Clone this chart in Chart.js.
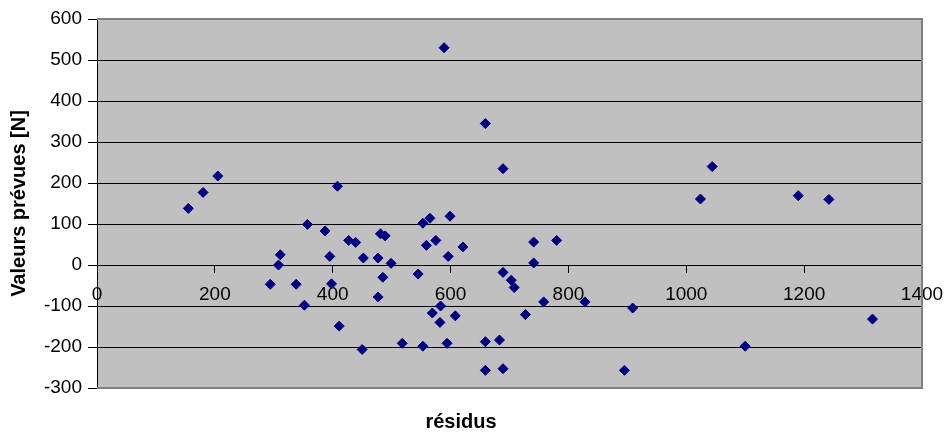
<!DOCTYPE html>
<html>
<head>
<meta charset="utf-8">
<script src="https://cdn.jsdelivr.net/npm/chart.js@4"></script>
<style>
  html, body { margin: 0; padding: 0; background: #fff; }
</style>
</head>
<body>
<canvas id="chart" width="948" height="434"></canvas>
<script>
// residus (x) / valeurs prevues (y)
const residus = [155, 180, 205, 294, 308, 311, 338, 352, 357, 387, 395, 398, 408, 411, 427, 439,
  452, 450, 477, 477, 481, 489, 485, 499, 518, 545, 553, 553, 565, 559, 569, 575, 583, 582, 594,
  599, 596, 608, 621, 589, 659, 689, 659, 683, 659, 689, 689, 703, 708, 727, 741, 741, 758, 780,
  828, 909, 895, 1024, 1044, 1100, 1190, 1242, 1316];
const valeursPrevues = [138, 177, 217, -47, 0, 25, -47, -98, 99, 83, 21, -46, 192, -149, 60, 55,
  17, -206, 17, -78, 76, 71, -30, 4, -191, -22, -198, 102, 114, 48, -117, 60, -100, -140, -191,
  119, 21, -124, 44, 530, 345, 235, -187, -183, -257, -253, -18, -37, -55, -121, 56, 5, -90, 60,
  -90, -105, -257, 161, 240, -198, 169, 160, -132];

const xTickValues = [0, 200, 400, 600, 800, 1000, 1200, 1400];
const yTickValues = [-300, -200, -100, 0, 100, 200, 300, 400, 500, 600];

const points = residus.map((x, i) => ({ x: x, y: valeursPrevues[i] }));

// grey plot area with a grey frame, like the Excel original
const plotArea = {
  id: 'plotArea',
  beforeDraw(chart) {
    const { ctx, chartArea: a } = chart;
    ctx.save();
    ctx.fillStyle = '#c0c0c0';
    ctx.fillRect(a.left, a.top, a.right - a.left, a.bottom - a.top);
    ctx.restore();
  },
  afterDatasetsDraw(chart) {
    const { ctx, chartArea: a } = chart;
    ctx.save();
    ctx.strokeStyle = '#808080';
    ctx.lineWidth = 2;
    ctx.beginPath();
    ctx.moveTo(a.left, a.top);
    ctx.lineTo(a.right, a.top);
    ctx.lineTo(a.right, a.bottom);
    ctx.lineTo(a.left, a.bottom);
    ctx.stroke();
    ctx.restore();
  }
};

new Chart(document.getElementById('chart'), {
  type: 'scatter',
  data: {
    datasets: [{
      data: points,
      pointStyle: 'rectRot',
      pointRadius: 5,
      pointHoverRadius: 5,
      backgroundColor: '#000080',
      borderColor: '#000080',
      borderWidth: 1
    }]
  },
  options: {
    responsive: false,
    animation: false,
    devicePixelRatio: 1,
    layout: { padding: { top: 19, right: 26, left: 0, bottom: 0 } },
    plugins: {
      legend: { display: false },
      tooltip: { enabled: false },
      title: {
        display: true,
        position: 'bottom',
        text: 'résidus',
        color: '#000',
        font: { family: 'Liberation Sans, Arial, sans-serif', size: 20, weight: 'bold' },
        padding: { top: 22, bottom: 0 }
      }
    },
    scales: {
      x: {
        type: 'linear',
        position: { y: 0 },
        min: 0,
        max: 1400,
        afterBuildTicks: scale => { scale.ticks = xTickValues.map(v => ({ value: v })); },
        afterFit: scale => { scale.paddingLeft = 0; scale.paddingRight = 0; },
        grid: { drawOnChartArea: false, drawTicks: true, tickLength: 7, color: '#000' },
        border: { display: true, color: '#000', width: 1 },
        ticks: {
          color: '#000',
          padding: 11,
          maxRotation: 0,
          callback: v => String(v),
          font: { family: 'Liberation Sans, Arial, sans-serif', size: 19 }
        }
      },
      y: {
        type: 'linear',
        min: -300,
        max: 600,
        afterBuildTicks: scale => { scale.ticks = yTickValues.map(v => ({ value: v })); },
        afterFit: scale => { scale.width = 97; },
        grid: { color: '#000', tickLength: 9 },
        border: { display: true, color: '#000', width: 1 },
        ticks: {
          color: '#000',
          padding: 6,
          callback: v => String(v),
          font: { family: 'Liberation Sans, Arial, sans-serif', size: 19 }
        },
        title: {
          display: true,
          text: 'Valeurs prévues [N]',
          color: '#000',
          padding: { top: 7, bottom: 0 },
          font: { family: 'Liberation Sans, Arial, sans-serif', size: 20, weight: 'bold' }
        }
      }
    }
  },
  plugins: [plotArea]
});
</script>
</body>
</html>
